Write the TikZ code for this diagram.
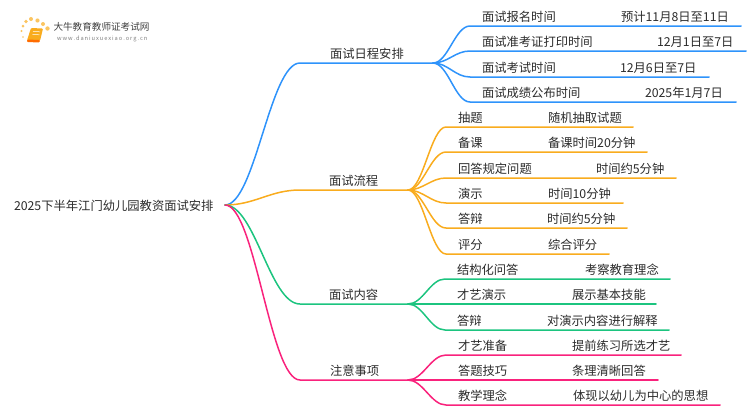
\documentclass[tikz,border=0pt]{standalone}
\usepackage{fontspec}
\setmainfont{Noto Sans CJK SC}
\definecolor{cblue}{HTML}{2E93FB}
\definecolor{corange}{HTML}{F9AC1E}
\definecolor{cgreen}{HTML}{1CC47F}
\definecolor{cpink}{HTML}{F9227C}
\definecolor{ctext}{HTML}{2B2B2B}
\tikzset{
  lbl/.style={anchor=base west,inner sep=0pt,outer sep=0pt,font=\fontsize{12.3pt}{14pt}\selectfont,text=ctext},
  lnk/.style={line width=1.5pt,line cap=round},
  pt/.style={inner sep=0pt,outer sep=0pt,minimum size=0pt},
}
% child: \kid{colour}{fork}{name}{label x}{y line}{label}{value x}{value}{end x}
\newcommand{\kid}[9]{%
  \coordinate (#3s) at (#4-12,#5);
  \coordinate (#3e) at (#9,#5);
  \node[lbl] (#3a) at (#4,#5-5) {#6};
  \node[lbl] (#3b) at (#7,#5-5) {#8};
  \draw[lnk,#1] (#2) .. controls ($(#2)+(15,0)$) and ($(#3s)+(-15,0)$) .. (#3s) -- (#3e);
}
% straight child, the fork and the line being level
\newcommand{\flatkid}[9]{%
  \coordinate (#3e) at (#9,#5);
  \node[lbl] (#3a) at (#4,#5-5) {#6};
  \node[lbl] (#3b) at (#7,#5-5) {#8};
  \draw[lnk,#1] (#2) -- (#3e);
}
\usetikzlibrary{calc}
\begin{document}
\begin{tikzpicture}[x=1pt,y=-1pt]
\useasboundingbox (0,0) rectangle (750,410);
% logo
\foreach \a/\b/\r in {23/37/.8,21.5/31/1.2,23/26/1.5,26/21.5/1.8,31/19/2,37.5/20.5/2.1,43/24/2,47.5/28.5/2.2}
  \fill[corange!70] (\a,\b) circle (\r);
\fill[corange,rounded corners=1pt] (31,28) -- (43,28.5) -- (40,41) -- (27,40.5) -- cycle;
\fill[orange!85!red,rounded corners=1pt] (27,39.5) -- (40,40) -- (39.5,42.5) -- (27,42) -- cycle;
\draw[white,line width=.5pt] (33,31.5) -- (40,31.8) (32.5,34.5) -- (39.5,34.8);
\node[pt,anchor=west,text=black!75,font=\fontsize{9.6pt}{10pt}\selectfont] (logoa) at (53.5,27) {大牛教育教师证考试网};
\node[pt,anchor=west,text=black!50,font=\fontsize{5.7pt}{7pt}\selectfont,text width=100pt] (logob) at (57,39) {w\,w\,w\,.\,d\,a\,n\,i\,u\,x\,u\,e\,x\,i\,a\,o\,.\,o\,r\,g\,.\,c\,n};
% root
\node[lbl] (root) at (14,210) {2025下半年江门幼儿园教资面试安排};
\coordinate (r) at (225,205);
% branches
\coordinate (bA) at (300,63); \coordinate (fA) at (433,63);
\coordinate (bB) at (300,190); \coordinate (fB) at (408,190);
\coordinate (bC) at (300,304); \coordinate (fC) at (408,304);
\coordinate (bD) at (300,380); \coordinate (fD) at (408,380);
\node[lbl] (lA) at (330,58) {面试日程安排};
\node[lbl] (lB) at (329,185) {面试流程};
\node[lbl] (lC) at (329,299) {面试内容};
\node[lbl] (lD) at (330,375) {注意事项};
\draw[lnk,cblue] (r) .. controls (255,205) and (270,63) .. (bA) -- (fA);
\draw[lnk,corange] (r) .. controls (255,205) and (270,190) .. (bB) -- (fB);
\draw[lnk,cgreen] (r) .. controls (255,205) and (270,304) .. (bC) -- (fC);
\draw[lnk,cpink] (r) .. controls (255,205) and (270,380) .. (bD) -- (fD);
% children
\kid{cblue}{fA}{a1}{482}{26}{面试报名时间}{621}{预计11月8日至11日}{741}
\kid{cblue}{fA}{a2}{482}{51}{面试准考证打印时间}{657}{12月1日至7日}{746}
\kid{cblue}{fA}{a3}{482}{77}{面试考试时间}{620}{12月6日至7日}{709}
\kid{cblue}{fA}{a4}{482}{102}{面试成绩公布时间}{645}{2025年1月7日}{736}
\kid{corange}{fB}{b1}{458}{127}{抽题}{548}{随机抽取试题}{633}
\kid{corange}{fB}{b2}{458}{152}{备课}{548}{备课时间20分钟}{647}
\kid{corange}{fB}{b3}{458}{178}{回答规定问题}{596}{时间约5分钟}{676}
\kid{corange}{fB}{b4}{458}{203}{演示}{548}{时间10分钟}{623}
\kid{corange}{fB}{b5}{458}{228}{答辩}{547}{时间约5分钟}{627}
\kid{corange}{fB}{b6}{458}{254}{评分}{548}{综合评分}{609}
\kid{cgreen}{fC}{c1}{457}{279}{结构化问答}{585}{考察教育理念}{670}
\flatkid{cgreen}{fC}{c2}{457}{304}{才艺演示}{572}{展示基本技能}{656}
\kid{cgreen}{fC}{c3}{457}{330}{答辩}{547}{对演示内容进行解释}{669}
\kid{cpink}{fD}{d1}{458}{355}{才艺准备}{572}{提前练习所选才艺}{681}
\flatkid{cpink}{fD}{d2}{458}{380}{答题技巧}{572}{条理清晰回答}{658}
\kid{cpink}{fD}{d3}{458}{405}{教学理念}{573}{体现以幼儿为中心的思想}{720}
\end{tikzpicture}
\end{document}
